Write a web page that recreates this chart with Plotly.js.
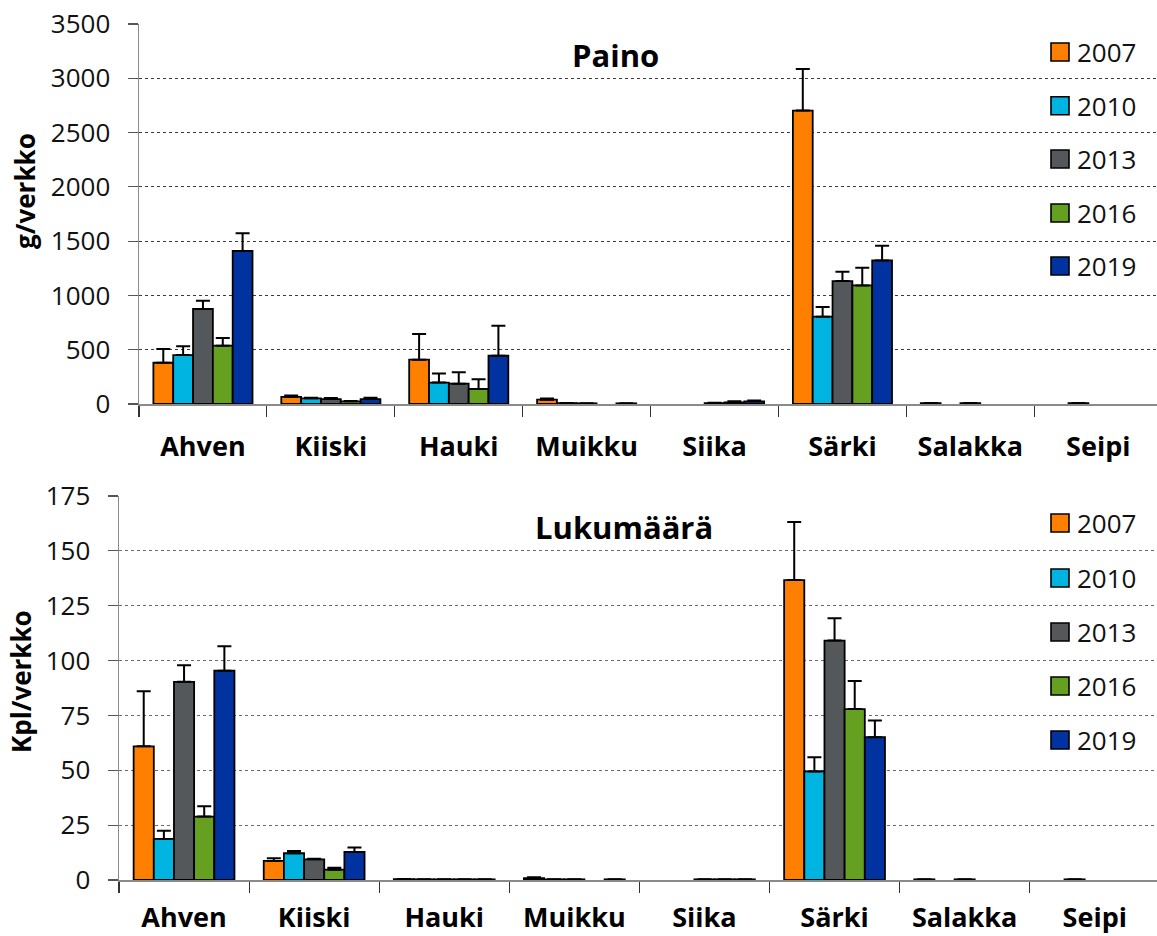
<!DOCTYPE html>
<html>
<head>
<meta charset="utf-8">
<script src="https://cdn.plot.ly/plotly-3.0.1.min.js"></script>
<style>
  html, body { margin: 0; padding: 0; background: #fff; }
  #chart { width: 1157px; height: 936px; }
</style>
</head>
<body>
<div id="chart"></div>
<script>
// ---- data ----
const categories = ['Ahven', 'Kiiski', 'Hauki', 'Muikku', 'Siika', 'Särki', 'Salakka', 'Seipi'];
const years = ['2007', '2010', '2013', '2016', '2019'];
const colors = ['#FF8000', '#00B4E2', '#54585A', '#66A020', '#0033A0'];

// Paino (g/verkko)
const paino2007 = [380, 65, 408, 40, null, 2703, 8, null];
const paino2010 = [451, 52, 197, 8, null, 804, null, 8];
const paino2013 = [875, 45, 187, 6, 8, 1132, 8, null];
const paino2016 = [537, 25, 138, null, 15, 1092, null, null];
const paino2019 = [1409, 45, 445, 6, 25, 1322, null, null];
const painoErr2007 = [126, 14, 237, 10, 0, 383, 2, 0];
const painoErr2010 = [80, 5, 85, 2, 0, 89, 0, 2];
const painoErr2013 = [76, 10, 105, 2, 4, 86, 2, 0];
const painoErr2016 = [71, 3, 89, 0, 10, 163, 0, 0];
const painoErr2019 = [163, 13, 276, 2, 8, 135, 0, 0];

// Lukumäärä (Kpl/verkko)
const luku2007 = [60.9, 8.7, 0.4, 0.9, null, 136.7, 0.3, null];
const luku2010 = [18.7, 12.2, 0.3, 0.3, null, 49.5, null, 0.3];
const luku2013 = [90.3, 9.4, 0.3, 0.3, 0.3, 109.1, 0.3, null];
const luku2016 = [28.9, 4.7, 0.3, null, 0.3, 77.9, null, null];
const luku2019 = [95.4, 12.8, 0.3, 0.3, 0.3, 65.1, null, null];
const lukuErr2007 = [25.1, 1.2, 0.1, 0.3, 0, 26.5, 0, 0];
const lukuErr2010 = [3.8, 1.0, 0, 0, 0, 6.4, 0, 0];
const lukuErr2013 = [7.6, 0.3, 0, 0, 0, 10.2, 0, 0];
const lukuErr2016 = [4.7, 0.9, 0, 0, 0, 12.8, 0, 0];
const lukuErr2019 = [11.1, 2.0, 0, 0, 0, 7.6, 0, 0];

const painoSeries = [paino2007, paino2010, paino2013, paino2016, paino2019];
const painoErrs = [painoErr2007, painoErr2010, painoErr2013, painoErr2016, painoErr2019];
const lukuSeries = [luku2007, luku2010, luku2013, luku2016, luku2019];
const lukuErrs = [lukuErr2007, lukuErr2010, lukuErr2013, lukuErr2016, lukuErr2019];

// ---- geometry helpers (paper px -> fractions) ----
const W = 1157, H = 936;
const px = v => v / W;
const py = v => 1 - v / H;
const FONT = 'Open Sans, Noto Sans, sans-serif';

function makeTrace(vals, errs, i, xa, ya) {
  return {
    type: 'bar',
    x: categories,
    y: vals,
    name: years[i],
    xaxis: xa, yaxis: ya,
    showlegend: false,
    marker: { color: colors[i], line: { color: '#000', width: 1.8 } },
    error_y: {
      type: 'data', symmetric: false,
      array: errs, arrayminus: errs.map(() => 0),
      color: '#000', thickness: 2, width: 7
    },
    hoverinfo: 'x+y+name'
  };
}

const traces = [];
years.forEach((y, i) => traces.push(makeTrace(painoSeries[i], painoErrs[i], i, 'x', 'y')));
years.forEach((y, i) => traces.push(makeTrace(lukuSeries[i], lukuErrs[i], i, 'x2', 'y2')));

function xAxis(domainLeft, rangeMax, anchor, standoff) {
  return {
    domain: [px(domainLeft), 1], anchor: anchor,
    type: 'category', categoryorder: 'array', categoryarray: categories,
    range: [-0.5, rangeMax],
    showline: true, linecolor: '#8a8a8a', linewidth: 2,
    ticks: 'outside', tickson: 'boundaries', ticklen: 11, tickcolor: '#333', tickwidth: 1.2,
    showgrid: false, zeroline: false,
    tickfont: { family: FONT, size: 27, color: '#000', weight: 'bold' },
    ticklabelstandoff: standoff,
    fixedrange: true
  };
}
function yAxis(domain, range, dtick, anchor, gridcolor) {
  return {
    domain: domain, anchor: anchor, range: range, dtick: dtick,
    showline: true, linecolor: '#8a8a8a', linewidth: 1.5,
    ticks: 'outside', ticklen: 10, tickcolor: '#555', tickwidth: 1.2,
    showgrid: true, gridcolor: gridcolor, griddash: 'dot', gridwidth: 1,
    zeroline: false,
    tickfont: { family: FONT, size: 26, color: '#111' },
    ticklabelstandoff: 12,
    fixedrange: true
  };
}

// legends (drawn from years/colors arrays)
const shapes = [];
const annotations = [];
const legendTop = [52, 105.7, 159, 213, 266];
const legendBot = [523, 578, 632, 686, 740];
[legendTop, legendBot].forEach(ys => {
  years.forEach((yr, i) => {
    shapes.push({
      type: 'rect', xref: 'paper', yref: 'paper',
      x0: px(1051), x1: px(1069), y0: py(ys[i] + 9), y1: py(ys[i] - 9),
      fillcolor: colors[i], line: { color: '#000', width: 1.6 }
    });
    annotations.push({
      xref: 'paper', yref: 'paper', x: px(1075), y: py(ys[i]),
      xanchor: 'left', yanchor: 'middle', showarrow: false,
      text: yr, font: { family: FONT, size: 26, color: '#111' }
    });
  });
});

// chart titles & axis titles
annotations.push({ xref: 'paper', yref: 'paper', x: px(615), y: py(55), xanchor: 'center', yanchor: 'middle',
  showarrow: false, text: '<b>Paino</b>', font: { family: FONT, size: 31, color: '#000' } });
annotations.push({ xref: 'paper', yref: 'paper', x: px(624), y: py(527), xanchor: 'center', yanchor: 'middle',
  showarrow: false, text: '<b>Lukumäärä</b>', font: { family: FONT, size: 31, color: '#000' } });
annotations.push({ xref: 'paper', yref: 'paper', x: px(25), y: py(191), xanchor: 'center', yanchor: 'middle',
  showarrow: false, textangle: -90, text: '<b>g/verkko</b>', font: { family: FONT, size: 26, color: '#000' } });
annotations.push({ xref: 'paper', yref: 'paper', x: px(21), y: py(682), xanchor: 'center', yanchor: 'middle',
  showarrow: false, textangle: -90, text: '<b>Kpl/verkko</b>', font: { family: FONT, size: 26, color: '#000' } });

const layout = {
  width: W, height: H,
  margin: { l: 0, r: 0, t: 0, b: 0 },
  paper_bgcolor: '#fff', plot_bgcolor: '#fff',
  barmode: 'group', bargap: 0.225, bargroupgap: 0,
  showlegend: false,
  xaxis: xAxis(139, -0.5 + (W - 139) / 127.9, 'y', 18),
  yaxis: yAxis([py(404), py(24)], [0, 3500], 500, 'x', '#3a3a3a'),
  xaxis2: xAxis(119, -0.5 + (W - 119) / 130.1, 'y2', 13),
  yaxis2: yAxis([py(880), py(496)], [0, 175], 25, 'x2', '#6a6a6a'),
  shapes: shapes,
  annotations: annotations,
  font: { family: FONT }
};

Plotly.newPlot('chart', traces, layout, { displayModeBar: false, staticPlot: true });
</script>
</body>
</html>
